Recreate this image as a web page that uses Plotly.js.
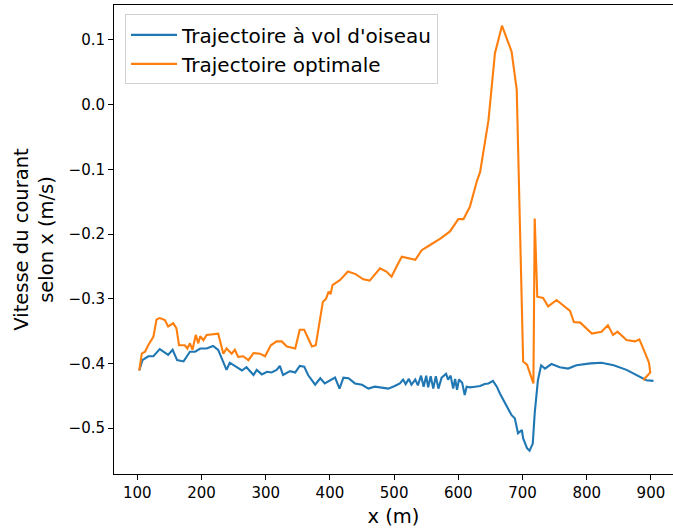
<!DOCTYPE html>
<html>
<head>
<meta charset="utf-8">
<script src="https://cdn.plot.ly/plotly-3.0.1.min.js"></script>
<style>html,body{margin:0;padding:0;background:#fff;}#chart{width:673px;height:531px;}</style>
</head>
<body>
<div id="chart"></div>
<script>
const seriesNames = ["Trajectoire à vol d'oiseau", "Trajectoire optimale"];

const blueX = [
  103,108,117,125,135,148,155,162,172,182,
  190,198,208,218,226,233,239,244,255,263,
  270,281,286,294,302,309,317,322,327,338,
  346,353,360,366,377,385,392,400,408,415,
  421,429,439,450,460,470,481,491,501,509,
  514,518,523,527,533,537,542,546,550,553,
  557,561,565,569,574,581,584,588,592,595,
  598,601,606,610,613,618,626,634,641,647,
  654,660,665,673,683,688,693,699,701,707,
  711,716,719,724,729,735,745,758,771,784,
  806,823,842,862,883,893,904
];
const blueY = [
  -0.411,-0.395,-0.389,-0.389,-0.378,-0.387,-0.379,-0.395,-0.397,-0.382,
  -0.382,-0.377,-0.377,-0.373,-0.379,-0.395,-0.410,-0.399,-0.406,-0.411,
  -0.406,-0.418,-0.410,-0.417,-0.413,-0.414,-0.410,-0.404,-0.418,-0.412,
  -0.414,-0.404,-0.405,-0.418,-0.433,-0.423,-0.431,-0.426,-0.422,-0.439,
  -0.422,-0.423,-0.431,-0.433,-0.439,-0.436,-0.437,-0.439,-0.435,-0.431,
  -0.425,-0.432,-0.424,-0.433,-0.425,-0.434,-0.419,-0.436,-0.419,-0.437,
  -0.420,-0.439,-0.420,-0.439,-0.422,-0.416,-0.425,-0.419,-0.439,-0.424,
  -0.441,-0.425,-0.430,-0.449,-0.436,-0.437,-0.436,-0.435,-0.432,-0.431,
  -0.427,-0.436,-0.447,-0.462,-0.480,-0.485,-0.508,-0.503,-0.516,-0.531,
  -0.535,-0.524,-0.477,-0.426,-0.403,-0.408,-0.401,-0.406,-0.408,-0.403,
  -0.400,-0.399,-0.403,-0.410,-0.421,-0.426,-0.427
];

const orangeX = [
  103,107,112,117,125,130,135,143,148,156,
  161,165,174,178,182,186,191,195,198,203,
  208,221,226,234,239,247,252,257,265,273,
  281,291,299,308,317,325,333,346,353,360,
  372,378,389,394,398,401,404,416,428,440,
  452,462,470,478,488,496,505,512,533,543,
  556,572,587,600,608,618,629,634,647,657,
  668,683,691,695,701,707,717,719,723,732,
  740,753,763,774,780,790,808,823,833,841,
  848,862,875,882,891,897,899,888
];
const orangeY = [
  -0.411,-0.385,-0.382,-0.372,-0.359,-0.332,-0.330,-0.333,-0.343,-0.338,
  -0.346,-0.372,-0.372,-0.377,-0.369,-0.379,-0.356,-0.369,-0.358,-0.364,
  -0.356,-0.354,-0.354,-0.385,-0.377,-0.385,-0.379,-0.390,-0.389,-0.395,
  -0.384,-0.385,-0.389,-0.372,-0.366,-0.366,-0.374,-0.377,-0.348,-0.348,
  -0.374,-0.372,-0.305,-0.300,-0.289,-0.293,-0.279,-0.271,-0.258,-0.262,
  -0.270,-0.272,-0.262,-0.253,-0.258,-0.266,-0.248,-0.235,-0.240,-0.225,
  -0.217,-0.207,-0.196,-0.177,-0.177,-0.158,-0.118,-0.104,-0.024,0.079,
  0.122,0.082,0.023,-0.147,-0.397,-0.402,-0.431,-0.176,-0.297,-0.299,
  -0.312,-0.302,-0.310,-0.319,-0.336,-0.337,-0.354,-0.351,-0.341,-0.356,
  -0.351,-0.364,-0.366,-0.363,-0.384,-0.399,-0.414,-0.426
];

const xTitle = "x (m)";
const yTitle = "Vitesse du courant<br>selon x (m/s)";

const FONT = "DejaVu Sans, sans-serif";

const traces = [
  {x: blueX, y: blueY, name: seriesNames[0], type: "scatter", mode: "lines",
   line: {color: "#1f77b4", width: 2.1}},
  {x: orangeX, y: orangeY, name: seriesNames[1], type: "scatter", mode: "lines",
   line: {color: "#ff7f0e", width: 2.1}}
];

const layout = {
  width: 673, height: 531,
  margin: {l: 114, r: 0, t: 5, b: 57, pad: 0},
  paper_bgcolor: "#fff", plot_bgcolor: "#fff",
  font: {family: FONT, color: "#000", size: 15},
  showlegend: true,
  legend: {
    x: 0.0197, y: 0.98, xanchor: "left", yanchor: "top",
    bgcolor: "rgba(255,255,255,0.8)", bordercolor: "#d0d0d0", borderwidth: 1,
    font: {family: FONT, size: 20, color: "#000"},
    itemwidth: 46,
    tracegroupgap: 0
  },
  xaxis: {
    range: [63.7, 934.4], dtick: 100, tick0: 0,
    showgrid: false, zeroline: false,
    showline: true, mirror: true, linecolor: "#000", linewidth: 1,
    ticks: "outside", ticklen: 5, tickwidth: 1, tickcolor: "#000",
    tickfont: {family: FONT, size: 15, color: "#000"},
    title: {text: xTitle, font: {family: FONT, size: 19.5, color: "#000"}, standoff: 8}
  },
  yaxis: {
    range: [-0.571, 0.154], dtick: 0.1, tick0: 0, tickformat: ".1f",
    showgrid: false, zeroline: false,
    showline: true, mirror: false, linecolor: "#000", linewidth: 1,
    ticks: "outside", ticklen: 5, tickwidth: 1, tickcolor: "#000",
    tickfont: {family: FONT, size: 15, color: "#000"},
    title: {text: yTitle, font: {family: FONT, size: 19.5, color: "#000"}, standoff: 9}
  }
};

Plotly.newPlot("chart", traces, layout, {staticPlot: true, displayModeBar: false});
</script>
</body>
</html>
